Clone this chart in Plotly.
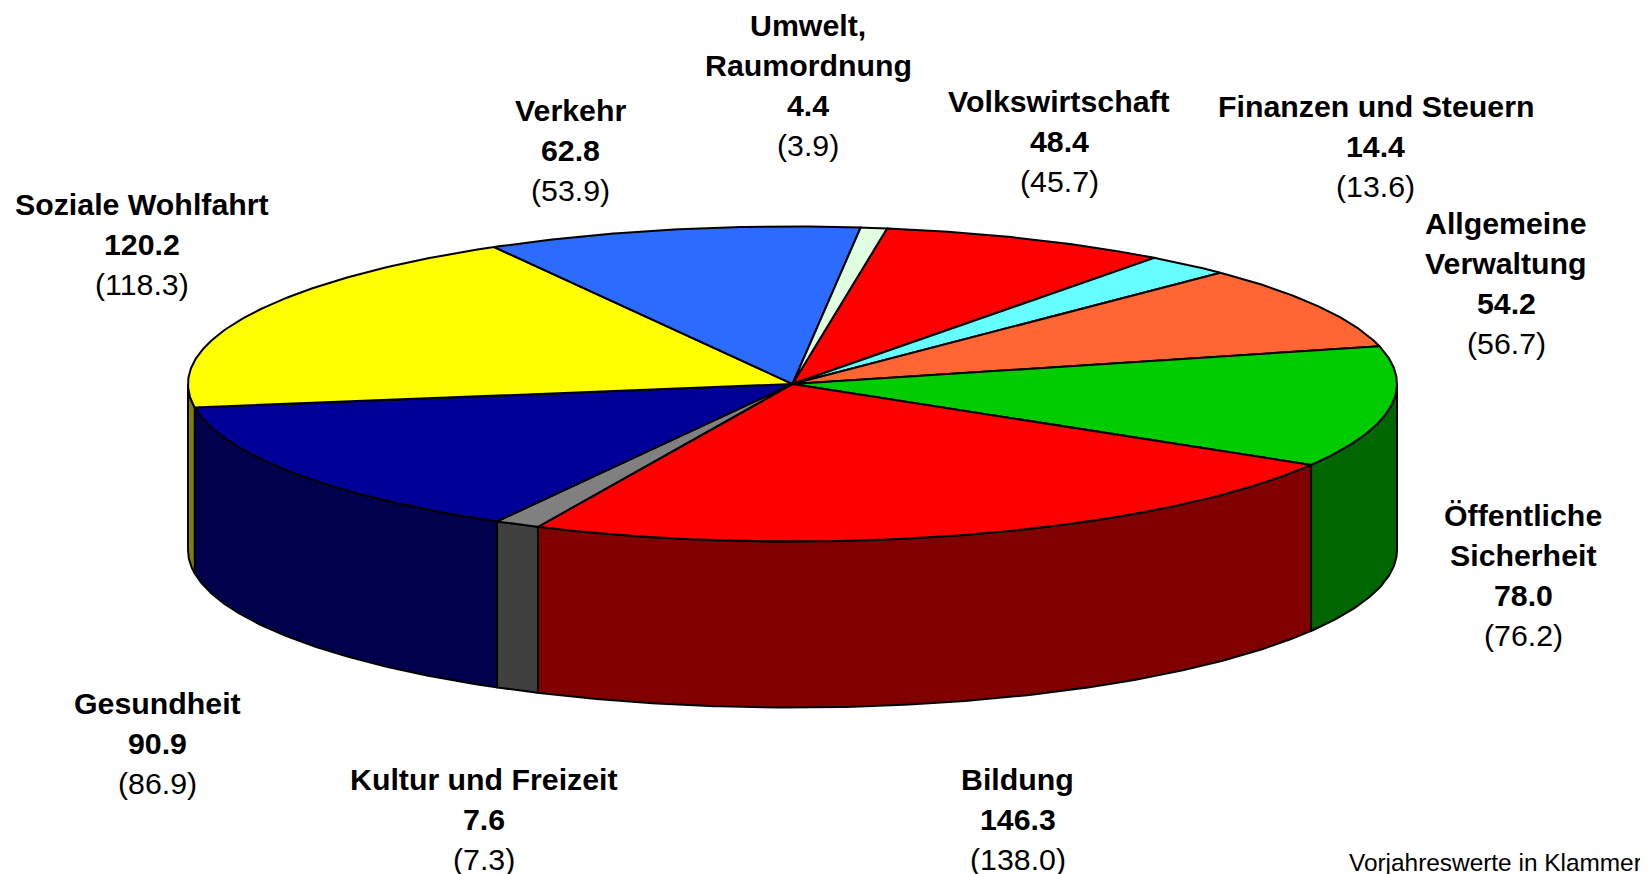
import numpy as np
import plotly.graph_objects as go

# ---- data (clockwise from the start angle) ----
categories = ["Volkswirtschaft", "Finanzen und Steuern", "Allgemeine Verwaltung", "Öffentliche Sicherheit",
              "Bildung", "Kultur und Freizeit", "Gesundheit", "Soziale Wohlfahrt", "Verkehr", "Umwelt, Raumordnung"]
values = [48.4, 14.4, 54.2, 78.0, 146.3, 7.6, 90.9, 120.2, 62.8, 4.4]
previous = [45.7, 13.6, 56.7, 76.2, 138.0, 7.3, 86.9, 118.3, 53.9, 3.9]
top_colors = ["#FF0000", "#66FFFF", "#FF6633", "#00CC00", "#FF0000", "#808080", "#000099", "#FFFF00", "#2B6CFF", "#E0FFE0"]
wall_colors = ["#800000", "#338080", "#80331A", "#006600", "#800000", "#404040", "#00004D", "#808000", "#153680", "#708070"]
name_lines = [["Volkswirtschaft"], ["Finanzen und Steuern"], ["Allgemeine", "Verwaltung"], ["Öffentliche", "Sicherheit"],
              ["Bildung"], ["Kultur und Freizeit"], ["Gesundheit"], ["Soziale Wohlfahrt"], ["Verkehr"], ["Umwelt,", "Raumordnung"]]
label_x = [1059, 1375.5, 1506, 1523, 1017.5, 484, 157, 141.5, 570.5, 808]
label_y = [101.5, 106.5, 223.5, 515.5, 779, 779, 703.5, 204.5, 110.5, 25]
footnote = "Vorjahreswerte in Klammer"

# ---- pie geometry ----
W, H = 1648, 874
PAGE_MARGIN = 8  # the page body's default margin; the axis ranges make up for it
CX, CY = 792.5, 384.0
RX, RY = 604.5, 157.5
DEPTH = 166.0
START_DEG = 9.0
LINE_H = 40.0
EDGE = dict(color="black", width=2)


def rim(a0, a1, drop=0.0):
    n = max(2, int(abs(a1 - a0) * 2) + 2)
    t = np.radians(np.linspace(a0, a1, n))
    return CX + RX * np.sin(t), CY - RY * np.cos(t) + drop


fig = go.Figure()


def poly(x, y, color):
    fig.add_trace(go.Scatter(x=np.round(x, 2).tolist(), y=np.round(y, 2).tolist(), mode="lines", fill="toself",
                             fillcolor=color, line=EDGE, hoverinfo="skip", showlegend=False))


edges = START_DEG + np.concatenate([[0.0], np.cumsum(values)]) * 360.0 / sum(values)

# outer walls: only the part of each slice facing the viewer (90..270 degrees)
for i in range(len(values)):
    a0, a1 = max(edges[i], 90.0), min(edges[i + 1], 270.0)
    if a1 <= a0:
        continue
    xt, yt = rim(a0, a1)
    xb, yb = rim(a1, a0, DEPTH)
    poly(np.r_[xt, xb, xt[0]], np.r_[yt, yb, yt[0]], wall_colors[i])

# top faces
for i in range(len(values)):
    xt, yt = rim(edges[i], edges[i + 1])
    poly(np.r_[CX, xt, CX], np.r_[CY, yt, CY], top_colors[i])

# ---- labels, one annotation per line ----
FONT = "Liberation Sans, Arial, sans-serif"
annotations = []


def text(x, y, s, bold):
    annotations.append(dict(x=x, y=y, xref="x", yref="y", text=f"<b>{s}</b>" if bold else s, showarrow=False,
                            xanchor="center", yanchor="middle", font=dict(family=FONT, size=30.3, color="black")))


for i in range(len(values)):
    y = label_y[i]
    for part in name_lines[i]:
        text(label_x[i], y, part, True)
        y += LINE_H
    text(label_x[i], y, f"{values[i]:.1f}", True)
    y += LINE_H
    text(label_x[i], y, f"({previous[i]:.1f})", False)

annotations.append(dict(x=1644, y=862, xref="x", yref="y", text=footnote, showarrow=False, xanchor="right",
                        yanchor="middle", font=dict(family=FONT, size=24.4, color="black")))

fig.update_layout(
    width=W - PAGE_MARGIN, height=H - PAGE_MARGIN, margin=dict(l=0, r=0, t=0, b=0),
    paper_bgcolor="white", plot_bgcolor="white",
    xaxis=dict(range=[PAGE_MARGIN, W], visible=False, fixedrange=True),
    yaxis=dict(range=[H, PAGE_MARGIN], visible=False, fixedrange=True),
    annotations=annotations, showlegend=False,
)
fig.write_html("out.html", config={"displayModeBar": False})
